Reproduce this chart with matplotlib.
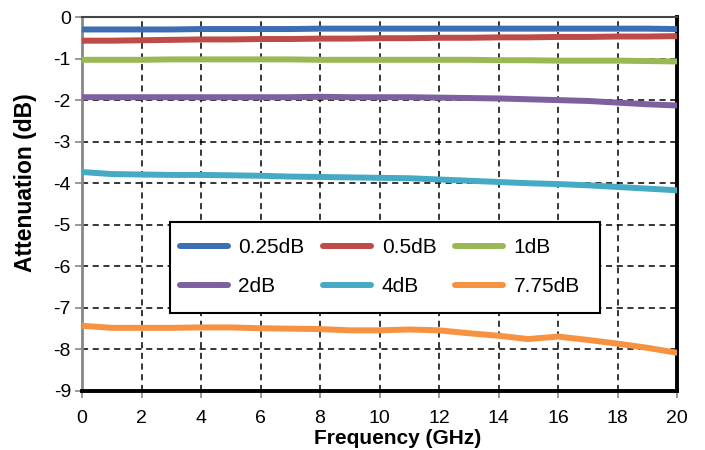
import matplotlib
matplotlib.use("Agg")
import matplotlib.pyplot as plt
from matplotlib.patches import Rectangle
import numpy as np

plt.rcParams['font.family'] = ['Liberation Sans', 'DejaVu Sans']
plt.rcParams['axes.unicode_minus'] = False

freq = list(range(0, 21))
att_025 = [-0.30, -0.30, -0.30, -0.30, -0.29, -0.29, -0.29, -0.29, -0.28, -0.28, -0.28,
           -0.28, -0.28, -0.28, -0.28, -0.28, -0.28, -0.28, -0.28, -0.28, -0.29]
att_05 = [-0.57, -0.57, -0.56, -0.55, -0.54, -0.54, -0.53, -0.53, -0.52, -0.52, -0.51,
          -0.51, -0.50, -0.50, -0.49, -0.49, -0.48, -0.48, -0.47, -0.47, -0.46]
att_1 = [-1.03, -1.03, -1.03, -1.02, -1.02, -1.02, -1.02, -1.02, -1.03, -1.03, -1.03,
         -1.03, -1.03, -1.03, -1.04, -1.04, -1.05, -1.05, -1.05, -1.06, -1.07]
att_2 = [-1.93, -1.93, -1.93, -1.93, -1.93, -1.93, -1.93, -1.93, -1.92, -1.93, -1.93,
         -1.93, -1.94, -1.95, -1.96, -1.98, -2.00, -2.02, -2.06, -2.10, -2.13]
att_4 = [-3.73, -3.78, -3.79, -3.80, -3.80, -3.81, -3.82, -3.84, -3.85, -3.86, -3.87,
         -3.88, -3.91, -3.94, -3.97, -4.00, -4.02, -4.05, -4.09, -4.13, -4.17]
att_775 = [-7.43, -7.48, -7.48, -7.48, -7.47, -7.47, -7.49, -7.50, -7.51, -7.54, -7.54,
           -7.52, -7.54, -7.61, -7.67, -7.75, -7.69, -7.77, -7.86, -7.96, -8.08]

labels = ['0.25dB', '0.5dB', '1dB', '2dB', '4dB', '7.75dB']
colors = ['#3C6EB4', '#BE4B48', '#98B954', '#7D60A0', '#46AAC5', '#F69240']
series = [att_025, att_05, att_1, att_2, att_4, att_775]

xticks = list(range(0, 21, 2))
yticks = list(range(-9, 1))

W, H = 705, 450
fig = plt.figure(figsize=(W/100, H/100), dpi=100)
ax = fig.add_axes([82/W, 1 - 391/H, (677-82)/W, (391-17)/H])

handles = []
for s, c, l in zip(series, colors, labels):
    h, = ax.plot(freq, s, color=c, lw=4.3, label=l, solid_capstyle='round', zorder=3)
    handles.append(h)

ax.set_xlim(0, 20)
ax.set_ylim(-9, 0)
ax.set_xticks(xticks)
ax.set_yticks(yticks)
ax.grid(True, color='black', linestyle=(0, (4, 3)), linewidth=1.1)
ax.tick_params(axis='both', direction='out', length=5, width=1.2, color='#888888',
               labelsize=14)
ax.tick_params(axis='x', pad=9)
ax.tick_params(axis='y', pad=3)

ax.spines['left'].set_color('#888888')
ax.spines['left'].set_linewidth(2)
ax.spines['top'].set_color('#444444')
ax.spines['top'].set_linewidth(1.5)
ax.spines['right'].set_color('black')
ax.spines['right'].set_linewidth(2.8)
ax.spines['bottom'].set_color('black')
ax.spines['bottom'].set_linewidth(2.8)

ax.set_xlabel('Frequency (GHz)', fontsize=15, fontweight='bold')
ax.set_ylabel('Attenuation (dB)', fontsize=16.5, fontweight='bold')
ax.xaxis.set_label_coords((398 - 82) / 595, -(429 - 391) / 374)
ax.yaxis.set_label_coords(-(82 - 37) / 595, (391 - 183) / 374)

# legend frame
fig.patches.append(Rectangle((170/W, 1 - 313/H), (600-170)/W, (313-222)/H,
                             transform=fig.transFigure, facecolor='white',
                             edgecolor='black', linewidth=1.5, zorder=4))

order = [0, 3, 1, 4, 2, 5]
leg = fig.legend(handles=[handles[i] for i in order], labels=[labels[i] for i in order],
                 ncol=3, loc='center left',
                 bbox_to_anchor=(180/W, 1 - 267/H), borderaxespad=0,
                 fontsize=15, frameon=False, handlelength=2.3,
                 handletextpad=0.5, columnspacing=0.9, borderpad=0,
                 labelspacing=0.95)
leg.set_zorder(5)
for lh in leg.get_lines():
    lh.set_solid_capstyle('round')

fig.savefig('out.png', dpi=100)
